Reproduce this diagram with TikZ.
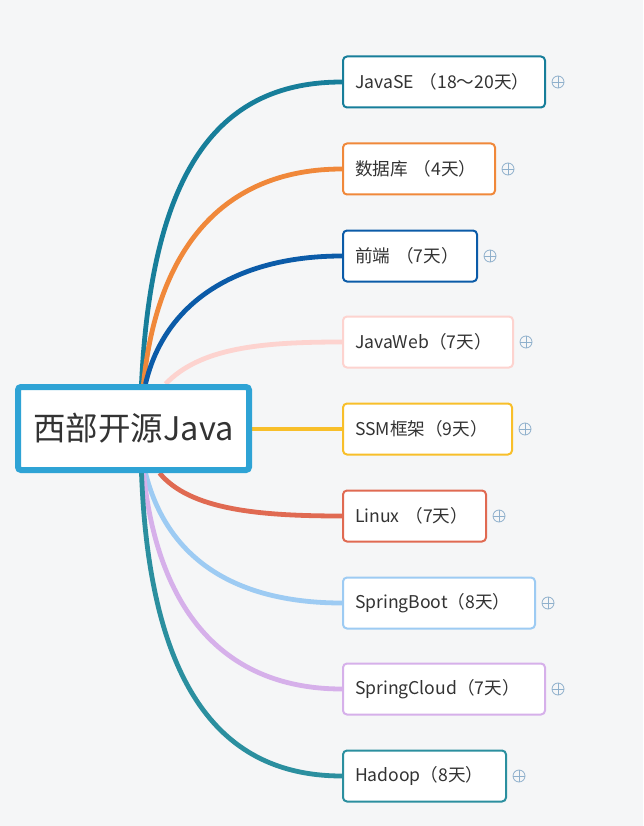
\documentclass[tikz,border=0pt]{standalone}
\usepackage{fontspec}
\setmainfont{Noto Sans CJK SC}
\usetikzlibrary{backgrounds,calc}
\definecolor{bgc}{HTML}{F5F6F7}
\definecolor{cmain}{HTML}{2EA3D5}
\definecolor{c1}{HTML}{177E9A}
\definecolor{c2}{HTML}{F0883A}
\definecolor{c3}{HTML}{0B5BA8}
\definecolor{c4}{HTML}{FDD3CF}
\definecolor{c5}{HTML}{F8BF2A}
\definecolor{c6}{HTML}{E06A52}
\definecolor{c7}{HTML}{9DCBF3}
\definecolor{c8}{HTML}{D6B0EA}
\definecolor{c9}{HTML}{2B8F9F}
\definecolor{plusc}{HTML}{8FB0CC}
\definecolor{txt}{HTML}{333333}
\tikzset{
  topic/.style={draw=#1, fill=white, line width=2pt, rounded corners=4pt,
    minimum height=51pt, anchor=west, inner xsep=12pt, align=left,
    font=\fontsize{17.6pt}{20pt}\selectfont, text=txt},
  link/.style={draw=#1, line width=4.8pt},
  plusic/.style={circle, draw=plusc, line width=0.8pt, minimum size=12pt, inner sep=0pt,
    path picture={\draw[plusc,line width=0.8pt] (path picture bounding box.north) -- (path picture bounding box.south) (path picture bounding box.west) -- (path picture bounding box.east);}}
}
\begin{document}
\begin{tikzpicture}[x=1pt,y=-1pt]
\useasboundingbox (0,0) rectangle (643,826);
\node[draw=cmain, fill=white, line width=6pt, rounded corners=3pt, minimum width=231pt, minimum height=83pt,
  font=\fontsize{32.5pt}{36pt}\selectfont, text=txt] (c) at (133.5,428.5) {西部开源Java};
\node[topic=c1, text width=178pt] (n1) at (342,82) {JavaSE （18\char"FF5E 20天）};
\node[topic=c2, text width=128pt] (n2) at (342,169) {数据库 （4天）};
\node[topic=c3, text width=110pt] (n3) at (342,256) {前端 （7天）};
\node[topic=c4, text width=146pt] (n4) at (342,342) {JavaWeb（7天）};
\node[topic=c5, text width=145pt] (n5) at (342,429) {SSM框架（9天）};
\node[topic=c6, text width=119pt] (n6) at (342,516) {Linux （7天）};
\node[topic=c7, text width=168pt] (n7) at (342,603) {SpringBoot（8天）};
\node[topic=c8, text width=178pt] (n8) at (342,689) {SpringCloud（7天）};
\node[topic=c9, text width=139pt] (n9) at (342,776) {Hadoop（8天）};
\foreach \i in {1,...,9}{\node[plusic] (p\i) at ($(n\i.east)+(12,0)$) {};}
\begin{pgfonlayer}{background}
\fill[bgc] (0,0) rectangle (643,826);
\draw[link=c1] ([xshift=8pt]c.north) .. controls (152,160) and (225,82) .. (n1.west);
\draw[link=c2] ([xshift=10pt]c.north) .. controls (158,240) and (230,169) .. (n2.west);
\draw[link=c3] ([xshift=12pt]c.north) .. controls (165,300) and (240,256) .. (n3.west);
\draw[link=c4] ([xshift=32pt]c.north) .. controls (200,348) and (260,342) .. (n4.west);
\draw[link=c5] (c.east |- n5.west) -- (n5.west);
\draw[link=c6] ([xshift=26pt]c.south) .. controls (190,510) and (260,516) .. (n6.west);
\draw[link=c7] ([xshift=12pt]c.south) .. controls (170,570) and (250,603) .. (n7.west);
\draw[link=c8] ([xshift=10pt]c.south) .. controls (160,630) and (240,689) .. (n8.west);
\draw[link=c9] ([xshift=8pt]c.south) .. controls (150,700) and (230,776) .. (n9.west);
\end{pgfonlayer}
\end{tikzpicture}
\end{document}
